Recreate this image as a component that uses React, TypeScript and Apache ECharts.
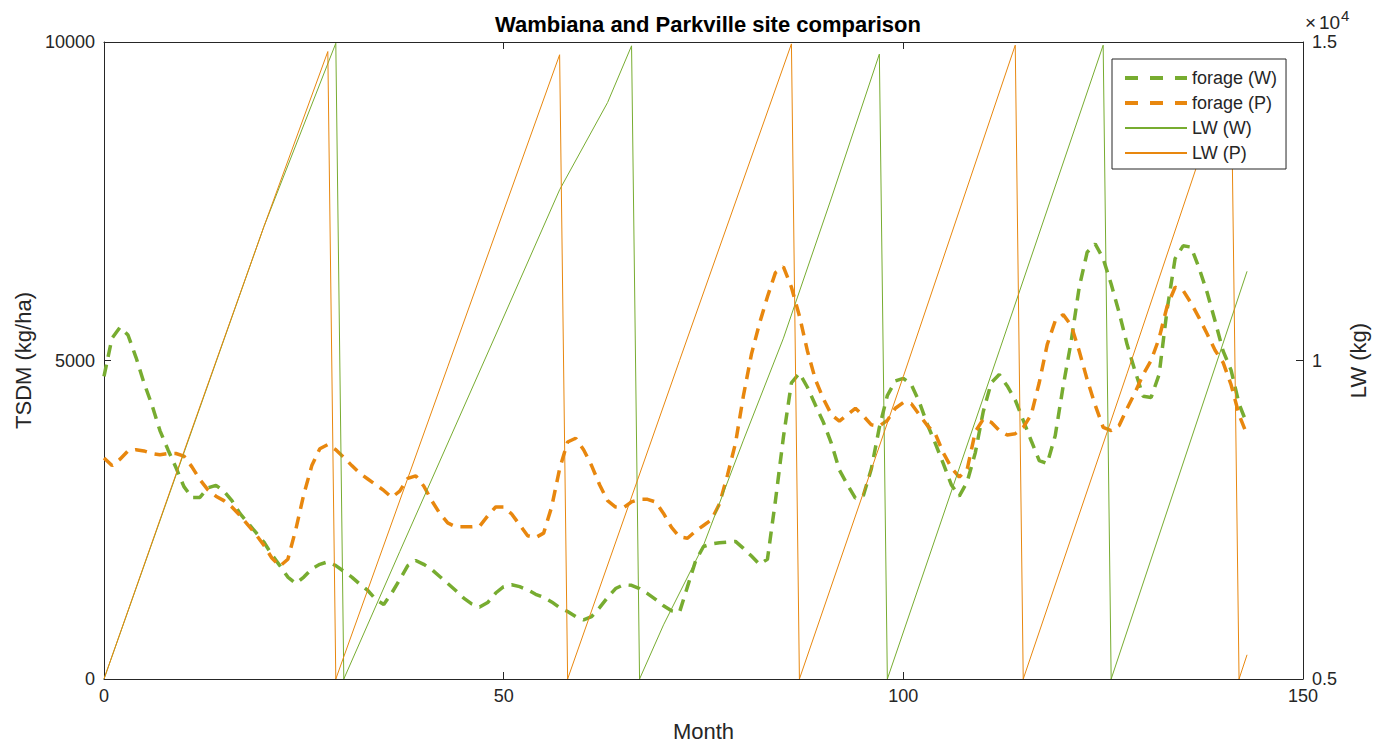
import React, { useEffect, useRef } from "react";
import * as echarts from "echarts";

const TITLE = "Wambiana and Parkville site comparison";
const X_NAME = "Month";
const Y_LEFT_NAME = "TSDM (kg/ha)";
const Y_RIGHT_NAME = "LW (kg)";

const SERIES_NAMES = ["forage (W)", "forage (P)", "LW (W)", "LW (P)"];

// monthly forage (TSDM, kg/ha), months 0..143
const forageW = [
  4750, 5350, 5520, 5400, 5050, 4650, 4300, 3900, 3600, 3320,
  3020, 2850, 2850, 3000, 3040, 2950, 2800, 2600, 2450, 2300,
  2150, 1950, 1780, 1600, 1500, 1600, 1730, 1800, 1840, 1780,
  1690, 1600, 1490, 1390, 1250, 1170, 1350, 1560, 1780, 1860,
  1800, 1720, 1610, 1500, 1390, 1270, 1180, 1130, 1200, 1350,
  1450, 1480, 1450, 1400, 1330, 1280, 1210, 1120, 1060, 980,
  930, 980, 1120, 1280, 1420, 1480, 1470, 1420, 1340, 1250,
  1150, 1070, 1050, 1450, 1850, 2080, 2120, 2140, 2150, 2160,
  2050, 1930, 1800, 1880, 2800, 3800, 4650, 4800, 4580, 4300,
  4030, 3700, 3280, 3050, 2840, 2880, 3300, 3950, 4450, 4680,
  4720, 4620, 4350, 4000, 3700, 3380, 3050, 2870, 3100, 3550,
  4200, 4650, 4780, 4600, 4380, 4060, 3740, 3430, 3380, 3820,
  4600, 5300, 6150, 6700, 6830, 6600, 6200, 5750, 5250, 4830,
  4440, 4420, 4780, 5800, 6600, 6800, 6780, 6450, 6070, 5620,
  5150, 4850, 4320, 4000,
];

const forageP = [
  3470, 3350, 3450, 3580, 3600, 3580, 3540, 3520, 3540, 3540,
  3500, 3330, 3130, 2970, 2870, 2800, 2700, 2570, 2420, 2270,
  2100, 1900, 1770, 1880, 2350, 2900, 3350, 3615, 3680, 3600,
  3480, 3350, 3230, 3140, 3050, 2960, 2850, 2950, 3150, 3190,
  3030, 2800, 2600, 2450, 2390, 2390, 2390, 2400, 2560, 2700,
  2700, 2590, 2420, 2250, 2220, 2290, 2700, 3300, 3720, 3780,
  3600, 3350, 3050, 2800, 2700, 2690, 2780, 2820, 2820, 2780,
  2600, 2380, 2230, 2210, 2320, 2410, 2500, 2750, 3200, 3700,
  4450, 5100, 5580, 6000, 6380, 6470, 6150, 5700, 5150, 4700,
  4400, 4150, 4050, 4150, 4250, 4130, 3990, 3970, 4060, 4250,
  4340, 4320, 4150, 3980, 3850, 3550, 3320, 3170, 3300, 3880,
  4080, 4030, 3900, 3830, 3850, 3950, 4150, 4650, 5250, 5620,
  5720, 5550, 5150, 4700, 4300, 3950, 3900, 3980, 4250, 4500,
  4780, 5000, 5350, 5850, 6150, 6100, 5900, 5670, 5420, 5160,
  4970, 4620, 4150, 3830,
];

// live weight (kg): [month, value] at the readable vertices of each cycle
const lwW: [number, number][] = [
  [0, 5000], [10, 8550], [20, 12100], [29, 14980], [30, 5000],
  [37, 7000], [49, 10400], [57, 12680], [63, 14050], [66, 14940], [67, 5000],
  [70, 5850], [75, 7100], [80, 8750], [85, 10350], [91, 12550], [97, 14810], [98, 5000],
  [112, 10150], [125, 14950], [126, 5000],
  [143, 11400],
];

const lwP: [number, number][] = [
  [0, 5000], [10, 8570], [20, 12100], [28, 14850], [29, 5000],
  [43, 9900], [57, 14800], [58, 5000],
  [72, 10000], [86, 14970], [87, 5000],
  [100, 9750], [114, 14950], [115, 5000],
  [128, 9800], [141, 14650], [142, 5000],
  [143, 5380],
];

const X_MIN = 0, X_MAX = 150, X_STEP = 50;
const YL_MIN = 0, YL_MAX = 10000, YL_STEP = 5000;
const YR_MIN = 5000, YR_MAX = 15000, YR_STEP = 5000;

const GREEN = "#77AC30";
const ORANGE = "#E8870E";
const TXT = "#262626";
const AX = "#262626";
const FONT = '"Liberation Sans", Arial, Helvetica, sans-serif';

export default function App() {
  const ref = useRef<HTMLDivElement>(null);

  useEffect(() => {
    if (!ref.current) return;
    const chart = echarts.init(ref.current, undefined, { renderer: "svg" });

    const axisCommon = {
      axisLine: { show: true, onZero: false, lineStyle: { color: AX, width: 1 } },
      axisTick: { show: true, inside: true, length: 7, lineStyle: { color: AX, width: 1 } },
      splitLine: { show: false },
    };

    const option: any = {
      animation: false,
      backgroundColor: "#ffffff",
      textStyle: { fontFamily: FONT },
      title: {
        text: TITLE,
        left: 703,
        top: 8,
        textAlign: "center",
        textStyle: { fontSize: 22, fontWeight: "bold", color: "#000", fontFamily: FONT },
      },
      grid: { left: 104, right: 75, top: 42, bottom: 66, containLabel: false },
      legend: {
        orient: "vertical",
        left: 1112,
        top: 59,
        padding: [10, 9, 7, 11],
        itemWidth: 62,
        itemHeight: 18,
        itemGap: 7,
        backgroundColor: "#ffffff",
        borderColor: AX,
        borderWidth: 1,
        selectedMode: false,
        itemStyle: { opacity: 0, borderWidth: 0 },
        textStyle: { fontSize: 18, color: TXT, fontFamily: FONT, lineHeight: 18 },
        data: [
          { name: SERIES_NAMES[0], lineStyle: { type: [13, 12], width: 4 } },
          { name: SERIES_NAMES[1], lineStyle: { type: [13, 12], width: 4 } },
          { name: SERIES_NAMES[2] },
          { name: SERIES_NAMES[3] },
        ],
      },
      xAxis: [
        {
          type: "value", min: X_MIN, max: X_MAX, interval: X_STEP, position: "bottom",
          ...axisCommon,
          axisLabel: { fontSize: 18, color: TXT, fontFamily: FONT, margin: 8 },
          name: X_NAME, nameLocation: "middle", nameGap: 41,
          nameTextStyle: { fontSize: 22, color: TXT, fontFamily: FONT },
        },
        {
          type: "value", min: X_MIN, max: X_MAX, interval: X_STEP, position: "top",
          ...axisCommon,
          axisLabel: { show: false },
        },
      ],
      yAxis: [
        {
          type: "value", min: YL_MIN, max: YL_MAX, interval: YL_STEP, position: "left",
          ...axisCommon,
          axisLabel: {
            fontSize: 18, color: TXT, fontFamily: FONT, margin: 9,
            formatter: (v: number) => String(v),
          },
          name: Y_LEFT_NAME, nameLocation: "middle", nameGap: 60, nameRotate: 90,
          nameTextStyle: { fontSize: 22, color: TXT, fontFamily: FONT },
        },
        {
          type: "value", min: YR_MIN, max: YR_MAX, interval: YR_STEP, position: "right",
          ...axisCommon,
          axisLabel: {
            fontSize: 18, color: TXT, fontFamily: FONT, margin: 9,
            formatter: (v: number) => String(v / 10000),
          },
          name: Y_RIGHT_NAME, nameLocation: "middle", nameGap: 44, nameRotate: 90,
          nameTextStyle: { fontSize: 22, color: TXT, fontFamily: FONT },
        },
      ],
      graphic: [
        { type: "text", x: 1305, y: 22, style: { text: "×", fontSize: 19, fill: TXT, fontFamily: FONT, textVerticalAlign: "middle" } },
        { type: "text", x: 1319, y: 22, style: { text: "10", fontSize: 19, fill: TXT, fontFamily: FONT, textVerticalAlign: "middle" } },
        { type: "text", x: 1341, y: 15, style: { text: "4", fontSize: 15, fill: TXT, fontFamily: FONT, textVerticalAlign: "middle" } },
      ],
      series: [
        {
          name: SERIES_NAMES[0], type: "line", xAxisIndex: 0, yAxisIndex: 0,
          data: forageW.map((v, i) => [i, v]), symbol: "none",
          lineStyle: { color: GREEN, width: 3.5, type: [12, 8] }, itemStyle: { color: GREEN },
        },
        {
          name: SERIES_NAMES[1], type: "line", xAxisIndex: 0, yAxisIndex: 0,
          data: forageP.map((v, i) => [i, v]), symbol: "none",
          lineStyle: { color: ORANGE, width: 3.5, type: [12, 8] }, itemStyle: { color: ORANGE },
        },
        {
          name: SERIES_NAMES[2], type: "line", xAxisIndex: 0, yAxisIndex: 1,
          data: lwW, symbol: "none",
          lineStyle: { color: GREEN, width: 1 }, itemStyle: { color: GREEN },
        },
        {
          name: SERIES_NAMES[3], type: "line", xAxisIndex: 0, yAxisIndex: 1,
          data: lwP, symbol: "none",
          lineStyle: { color: ORANGE, width: 1 }, itemStyle: { color: ORANGE },
        },
      ],
    };

    chart.setOption(option);
    return () => chart.dispose();
  }, []);

  return (
    <div
      ref={ref}
      style={{ position: "fixed", left: 0, top: 0, width: 1378, height: 747, background: "#fff" }}
    />
  );
}
